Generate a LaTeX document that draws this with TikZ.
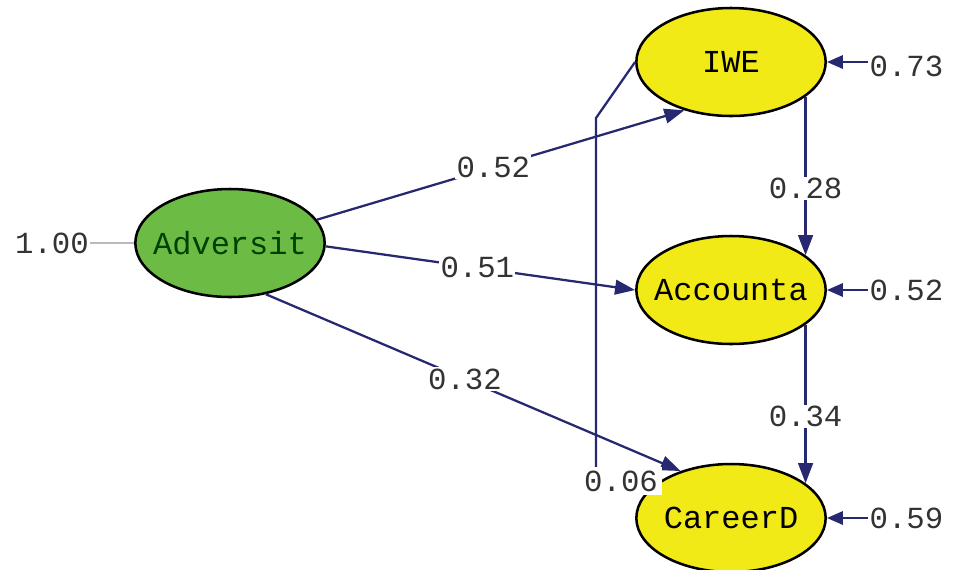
\documentclass[tikz,border=0pt]{standalone}
\usepackage{fontspec}
\setmonofont{Liberation Mono}
\usetikzlibrary{shapes.geometric,arrows.meta}
\definecolor{pathc}{RGB}{38,40,112}
\definecolor{grn}{RGB}{107,187,69}
\definecolor{yel}{RGB}{242,234,22}
\newcommand{\zw}[1]{\makebox[0pt]{#1}}
\begin{document}
\begin{tikzpicture}[x=0.75pt,y=-0.75pt,
  lat/.style={ellipse,draw=black,line width=1.9pt,minimum width=142pt,minimum height=81pt,inner sep=0pt,font=\ttfamily\fontsize{24}{24}\selectfont},
  coef/.style={fill=white,inner sep=1pt,font=\ttfamily\fontsize{23}{23}\selectfont,text=black!80},
  pth/.style={draw=pathc,line width=1.7pt},
  arr/.style={pth,-{Triangle[length=15pt,width=11pt]}},
  earr/.style={pth,-{Triangle[length=12pt,width=10pt]}}]
\useasboundingbox (0,0) rectangle (955,569);
% latent variables
\node[lat,fill=grn,text=black!75!green] (adv) at (230,243) {\zw{Adversit}};
\node[lat,fill=yel] (iwe) at (731,62) {\zw{IWE}};
\node[lat,fill=yel] (acc) at (731,290) {\zw{Accounta}};
\node[lat,fill=yel] (car) at (731,518) {\zw{CareerD}};
% variance of Adversit
\node[coef] (v1) at (52,243) {1.00};
\draw[gray!55,line width=1.7pt] (v1.east) -- (adv.west);
% IWE -> CareerD (0.06)
\coordinate (k1) at (596,118);
\coordinate (k2) at (596,470);
\draw[pth] (iwe.west) -- (k1) -- (k2);
% structural paths
\draw[arr] (adv.15) -- node[coef,pos=0.48] {0.52} (iwe.226);
\draw[arr] (adv.-2) -- node[coef,pos=0.49] {0.51} (acc.west);
\draw[arr] (adv.-55) -- node[coef,pos=0.48] {0.32} (car.137);
\node[coef,inner sep=3pt] (c06) at (621,481) {0.06};
\draw[arr] (iwe.-25) -- node[coef,pos=0.58] {0.28} (acc.25);
\draw[arr] (acc.-25) -- node[coef,pos=0.58] {0.34} (car.25);
% error terms
\node[coef,anchor=west] (e1) at (868,66) {0.73};
\node[coef,anchor=west] (e2) at (868,290) {0.52};
\node[coef,anchor=west] (e3) at (868,518) {0.59};
\draw[earr] (e1.west |- iwe.east) -- (iwe.east);
\draw[earr] (e2.west) -- (acc.east);
\draw[earr] (e3.west) -- (car.east);
\end{tikzpicture}
\end{document}
